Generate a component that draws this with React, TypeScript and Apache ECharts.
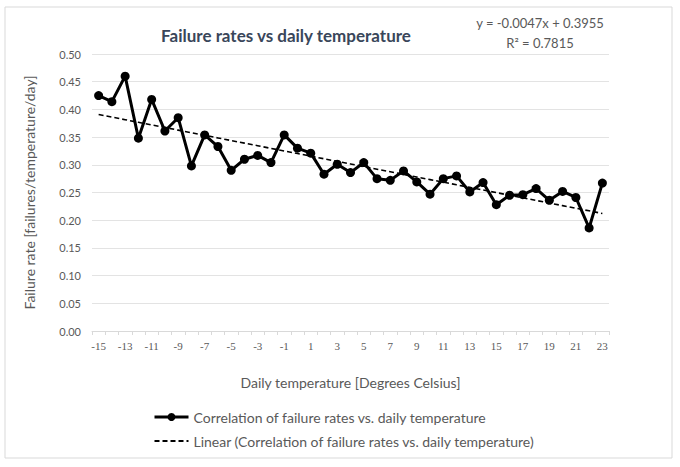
import React, { useEffect, useRef } from "react";
import * as echarts from "echarts";

const temperatures: number[] = [
  -15, -14, -13, -12, -11, -10, -9, -8, -7, -6, -5, -4, -3, -2, -1,
  0, 1, 2, 3, 4, 5, 6, 7, 8, 9, 10, 11, 12, 13, 14, 15, 16, 17, 18, 19, 20, 21, 22, 23,
];
const failureRates: number[] = [
  0.425, 0.414, 0.46, 0.348, 0.418, 0.361, 0.385, 0.298, 0.354, 0.333, 0.29, 0.31, 0.317, 0.304, 0.354,
  0.33, 0.321, 0.283, 0.301, 0.286, 0.304, 0.275, 0.272, 0.289, 0.269, 0.247, 0.275, 0.28, 0.251, 0.268,
  0.228, 0.245, 0.246, 0.257, 0.236, 0.252, 0.241, 0.186, 0.267,
];
const trendSlope = -0.0047;
const trendIntercept = 0.3955;
const rSquared = 0.7815;
const seriesName = "Correlation of failure rates vs. daily temperature";
const trendName = "Linear (Correlation of failure rates vs. daily temperature)";

const FONT = "Lato, 'Open Sans', sans-serif";

export default function App() {
  const ref = useRef<HTMLDivElement>(null);
  useEffect(() => {
    if (!ref.current) return;
    const chart = echarts.init(ref.current, undefined, { renderer: "svg" });
    const cats = temperatures.map(String);
    const trend = temperatures.map((_, i) => +(trendIntercept + trendSlope * (i + 1)).toFixed(4));
    chart.setOption({
      animation: false,
      backgroundColor: "#ffffff",
      textStyle: { fontFamily: FONT },
      title: {
        text: "Failure rates vs daily temperature",
        left: 281,
        textAlign: "center",
        top: 22,
        textStyle: { fontFamily: FONT, fontSize: 17, fontWeight: "bold", color: "#39465a" },
      },
      grid: { left: 92, right: 71, top: 54, bottom: 136, containLabel: false },
      legend: {
        orient: "vertical",
        left: 148,
        top: 405,
        itemWidth: 34,
        itemHeight: 10,
        itemGap: 10,
        textStyle: { fontFamily: FONT, fontSize: 14, color: "#595959" },
        data: [
          { name: seriesName, lineStyle: { width: 3 } },
          { name: trendName, itemStyle: { opacity: 0 }, lineStyle: { width: 2 } },
        ],
      },
      xAxis: {
        type: "category",
        data: cats,
        boundaryGap: true,
        name: "Daily temperature [Degrees Celsius]",
        nameLocation: "middle",
        nameGap: 44,
        nameTextStyle: { fontFamily: FONT, fontSize: 14, color: "#595959" },
        axisLine: { lineStyle: { color: "#d9d9d9", width: 1 } },
        axisTick: { show: true, interval: 0, length: 4, lineStyle: { color: "#d9d9d9" } },
        axisLabel: {
          interval: 1,
          fontFamily: "'Liberation Serif', serif",
          fontSize: 11,
          color: "#595959",
          margin: 9,
        },
        splitLine: { show: false },
      },
      yAxis: {
        type: "value",
        min: 0,
        max: 0.5,
        interval: 0.05,
        name: "Failure rate [failures/temperature/day]",
        nameLocation: "middle",
        nameGap: 56,
        nameTextStyle: { fontFamily: FONT, fontSize: 14, color: "#595959" },
        axisLine: { show: false },
        axisTick: { show: false },
        axisLabel: {
          formatter: (v: number) => v.toFixed(2),
          fontFamily: FONT,
          fontSize: 11,
          color: "#595959",
          margin: 11,
        },
        splitLine: { lineStyle: { color: "#e3e3e3", width: 1 } },
      },
      graphic: [
        {
          type: "rect",
          shape: { x: 5, y: 7, width: 667, height: 451 },
          style: { fill: "none", stroke: "#d9d9d9", lineWidth: 1 },
          silent: true,
          z: -1,
        },
        {
          type: "text",
          x: 540,
          y: 23,
          style: {
            text: "y = " + trendSlope.toFixed(4) + "x + " + trendIntercept.toFixed(4),
            fontFamily: FONT,
            fontSize: 13,
            fill: "#595959",
            align: "center",
            verticalAlign: "middle",
          },
        },
        {
          type: "text",
          x: 540,
          y: 43,
          style: {
            text: "R² = " + rSquared.toFixed(4),
            fontFamily: FONT,
            fontSize: 13,
            fill: "#595959",
            align: "center",
            verticalAlign: "middle",
          },
        },
      ],
      series: [
        {
          name: seriesName,
          type: "line",
          data: failureRates,
          symbol: "circle",
          symbolSize: 9,
          showAllSymbol: true,
          lineStyle: { color: "#000000", width: 3 },
          itemStyle: { color: "#000000" },
          z: 3,
        },
        {
          name: trendName,
          type: "line",
          data: trend,
          symbol: "none",
          lineStyle: { color: "#000000", width: 1.6, type: [5, 3] },
          itemStyle: { color: "#000000" },
          z: 4,
        },
      ],
    });
    return () => chart.dispose();
  }, []);
  return (
    <div
      ref={ref}
      style={{ position: "absolute", left: 0, top: 0, width: 680, height: 467 }}
    />
  );
}
